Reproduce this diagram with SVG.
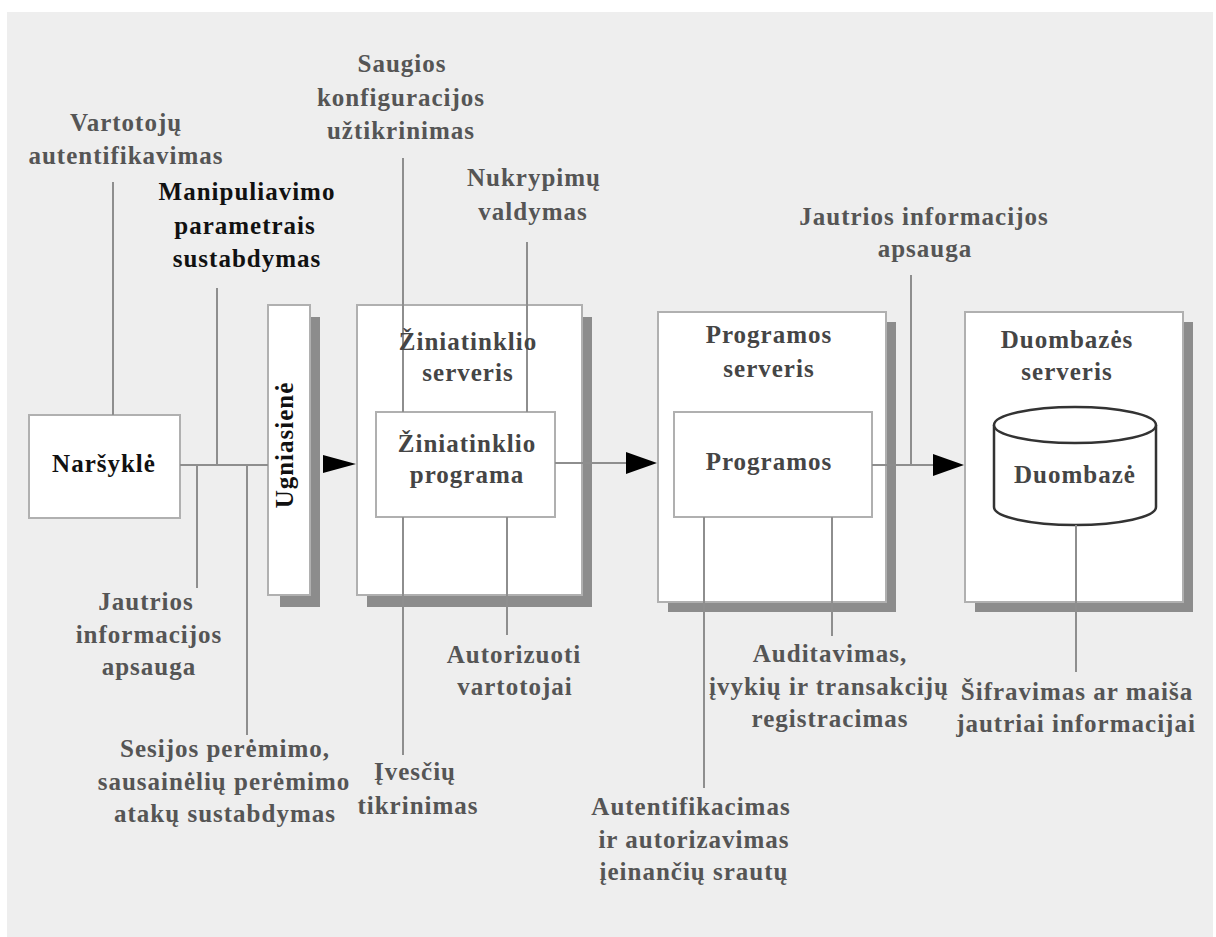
<svg xmlns="http://www.w3.org/2000/svg" width="1216" height="937" viewBox="0 0 1216 937">
  <style>
    text { font-family: "Liberation Serif", "Times New Roman", serif; font-weight: bold; font-size: 25px; letter-spacing: 1px; text-anchor: middle; }
    .lbl { fill: #555555; }
    .ttl { fill: #454545; }
    .dark { fill: #111111; }
    .box { fill: #ffffff; stroke: #b0b0b0; stroke-width: 2; }
    .shadow { fill: #8c8c8c; }
    .wire { stroke: #8e8e8e; stroke-width: 2; fill: none; }
    .head { fill: #000000; }
    .db { fill: #ffffff; stroke: #333333; stroke-width: 2.5; }
  </style>

  <!-- page -->
  <rect x="0" y="0" width="1216" height="937" fill="#ffffff"/>
  <rect x="7" y="12" width="1206" height="925" fill="#eeeeee"/>

  <!-- browser -->
  <g id="browser">
    <rect class="box" x="29" y="415" width="151" height="103"/>
    <text class="dark" x="104" y="472">Naršyklė</text>
  </g>

  <!-- firewall -->
  <g id="firewall">
    <rect class="shadow" x="280" y="317" width="40" height="290"/>
    <rect class="box" x="268" y="305" width="42" height="290"/>
  </g>

  <!-- web server -->
  <g id="web-server">
    <rect class="shadow" x="367" y="317" width="225" height="290"/>
    <rect class="box" x="357" y="305" width="225" height="290"/>
  </g>
  <g id="web-app">
    <rect class="box" x="376" y="412" width="179" height="105"/>
  </g>

  <!-- application server -->
  <g id="app-server">
    <rect class="shadow" x="668" y="322" width="228" height="290"/>
    <rect class="box" x="658" y="312" width="228" height="290"/>
  </g>
  <g id="app">
    <rect class="box" x="674" y="412" width="198" height="105"/>
  </g>

  <!-- database server -->
  <g id="db-server">
    <rect class="shadow" x="975" y="322" width="218" height="290"/>
    <rect class="box" x="965" y="312" width="218" height="290"/>
  </g>
  <g id="database">
    <path class="db" d="M994,425 L994,507 A81,18 0 0 0 1156,507 L1156,425"/>
    <ellipse class="db" cx="1075" cy="425" rx="81" ry="18"/>
  </g>

  <!-- connectors and leader lines -->
  <g id="connectors">
    <line class="wire" x1="180" y1="465" x2="268" y2="465"/>
    <path class="head" d="M323,455 L356,464 L323,473 Z"/>
    <line class="wire" x1="555" y1="463" x2="626" y2="463"/>
    <path class="head" d="M626,452 L657,463 L626,474 Z"/>
    <line class="wire" x1="872" y1="465" x2="933" y2="465"/>
    <path class="head" d="M933,454 L964,465 L933,476 Z"/>

    <line class="wire" x1="113" y1="182" x2="113" y2="415"/>
    <line class="wire" x1="217" y1="288" x2="217" y2="465"/>
    <line class="wire" x1="197" y1="465" x2="197" y2="588"/>
    <line class="wire" x1="247" y1="465" x2="247" y2="735"/>
    <line class="wire" x1="403" y1="158" x2="403" y2="412"/>
    <line class="wire" x1="527" y1="242" x2="527" y2="412"/>
    <line class="wire" x1="403" y1="517" x2="403" y2="755"/>
    <line class="wire" x1="507" y1="517" x2="507" y2="635"/>
    <line class="wire" x1="911" y1="275" x2="911" y2="465"/>
    <line class="wire" x1="704" y1="517" x2="704" y2="788"/>
    <line class="wire" x1="832" y1="517" x2="832" y2="636"/>
    <line class="wire" x1="1076" y1="525" x2="1076" y2="672"/>
  </g>

  <!-- node titles -->
  <g id="firewall-label">
    <text class="dark" transform="translate(293,445) rotate(-90)">Ugniasienė</text>
  </g>
  <g id="web-server-label">
    <text class="ttl" x="468" y="350">Žiniatinklio</text>
    <text class="ttl" x="468" y="381">serveris</text>
  </g>
  <g id="web-app-label">
    <text class="ttl" x="467" y="452">Žiniatinklio</text>
    <text class="ttl" x="467" y="483">programa</text>
  </g>
  <g id="app-server-label">
    <text class="ttl" x="769" y="343">Programos</text>
    <text class="ttl" x="769" y="377">serveris</text>
  </g>
  <g id="app-label">
    <text class="ttl" x="769" y="470">Programos</text>
  </g>
  <g id="db-server-label">
    <text class="ttl" x="1067" y="348">Duombazės</text>
    <text class="ttl" x="1067" y="380">serveris</text>
  </g>
  <g id="database-label">
    <text class="ttl" x="1075" y="483">Duombazė</text>
  </g>

  <!-- security annotations -->
  <g id="note-user-auth">
    <text class="lbl" x="126" y="131">Vartotojų</text>
    <text class="lbl" x="126" y="164">autentifikavimas</text>
  </g>
  <g id="note-param-tampering">
    <text class="dark" x="247" y="200">Manipuliavimo</text>
    <text class="dark" x="245" y="234">parametrais</text>
    <text class="dark" x="247" y="267">sustabdymas</text>
  </g>
  <g id="note-secure-config">
    <text class="lbl" x="402" y="72">Saugios</text>
    <text class="lbl" x="401" y="106">konfiguracijos</text>
    <text class="lbl" x="401" y="139">užtikrinimas</text>
  </g>
  <g id="note-exceptions">
    <text class="lbl" x="534" y="186">Nukrypimų</text>
    <text class="lbl" x="533" y="220">valdymas</text>
  </g>
  <g id="note-sensitive-top">
    <text class="lbl" x="924" y="225">Jautrios informacijos</text>
    <text class="lbl" x="925" y="257">apsauga</text>
  </g>
  <g id="note-sensitive-left">
    <text class="lbl" x="146" y="610">Jautrios</text>
    <text class="lbl" x="149" y="643">informacijos</text>
    <text class="lbl" x="149" y="675">apsauga</text>
  </g>
  <g id="note-session">
    <text class="lbl" x="225" y="757">Sesijos perėmimo,</text>
    <text class="lbl" x="224" y="790">sausainėlių perėmimo</text>
    <text class="lbl" x="225" y="822">atakų sustabdymas</text>
  </g>
  <g id="note-input">
    <text class="lbl" x="415" y="780">Įvesčių</text>
    <text class="lbl" x="418" y="814">tikrinimas</text>
  </g>
  <g id="note-authz">
    <text class="lbl" x="514" y="663">Autorizuoti</text>
    <text class="lbl" x="515" y="695">vartotojai</text>
  </g>
  <g id="note-audit">
    <text class="lbl" x="830" y="662">Auditavimas,</text>
    <text class="lbl" x="829" y="695">įvykių ir transakcijų</text>
    <text class="lbl" x="830" y="727">registracimas</text>
  </g>
  <g id="note-flow-auth">
    <text class="lbl" x="691" y="815">Autentifikacimas</text>
    <text class="lbl" x="694" y="848">ir autorizavimas</text>
    <text class="lbl" x="694" y="880">įeinančių srautų</text>
  </g>
  <g id="note-encryption">
    <text class="lbl" x="1077" y="700">Šifravimas ar maiša</text>
    <text class="lbl" x="1076" y="732">jautriai informacijai</text>
  </g>
</svg>
